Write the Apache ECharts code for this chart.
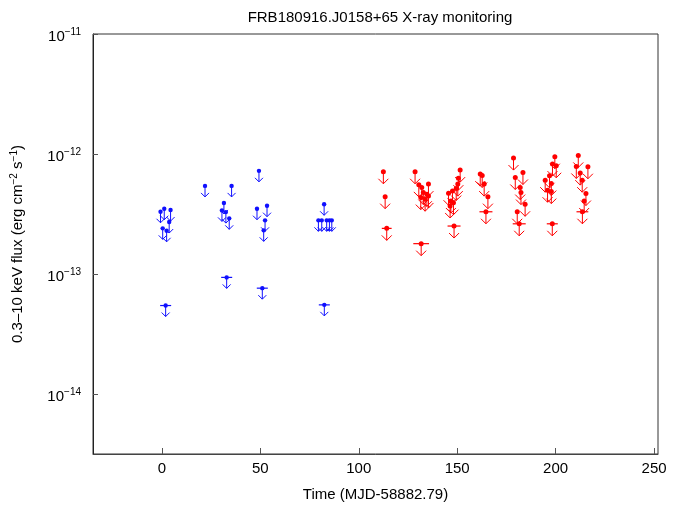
<!DOCTYPE html>
<html>
<head>
<meta charset="utf-8">
<script src="https://cdn.jsdelivr.net/npm/echarts@6/dist/echarts.min.js"></script>
<style>
  html, body { margin: 0; padding: 0; background: #fff; }
  #chart { width: 683px; height: 509px; }
</style>
</head>
<body>
<div id="chart"></div>
<script>
// time in days since MJD 58882.79, flux upper limits in erg cm^-2 s^-1,
// xerr = half width of the horizontal bar in days (0 = none)
const blueX = [-0.7, 1.2, 4.4, 3.7, 0.4, 2.4, 1.9,
  21.9, 35.4, 31.5, 30.5, 32.5, 34.2, 32.9,
  49.3, 48.3, 53.4, 52.4, 51.7, 51.0,
  82.4, 79.5, 81.2, 83.7, 85.1, 86.3, 82.5];
const blueFlux = [3.30e-13, 3.50e-13, 3.41e-13, 2.71e-13, 2.40e-13, 2.29e-13, 5.46e-14,
  5.42e-13, 5.42e-13, 3.91e-13, 3.39e-13, 3.28e-13, 2.91e-13, 9.37e-14,
  7.24e-13, 3.50e-13, 3.71e-13, 2.80e-13, 2.31e-13, 7.62e-14,
  3.81e-13, 2.80e-13, 2.80e-13, 2.80e-13, 2.80e-13, 2.80e-13, 5.53e-14];
const blueXerr = [0, 0, 0, 0, 0, 0, 2.8,
  0, 0, 0, 0, 0, 0, 2.8,
  0, 0, 0, 0, 0, 2.8,
  0, 0, 0, 0, 0, 0, 2.8];

const redX = [112.5, 113.4, 114.2,
  128.6, 130.5, 132.0, 135.4, 132.8, 134.6, 131.5, 133.7, 135.4, 131.7,
  151.5, 150.6, 150.3, 147.6, 145.6, 149.5, 146.8, 148.1, 146.4, 148.4,
  161.7, 162.7, 163.7, 165.6, 164.6,
  178.6, 179.5, 183.4, 182.0, 182.4, 184.5, 180.5, 181.5,
  199.6, 198.4, 200.3, 196.9, 194.7, 197.8, 195.9, 197.8, 198.3,
  211.5, 210.5, 212.5, 216.4, 213.5, 215.4, 214.5, 213.6];
const redFlux = [7.11e-13, 4.41e-13, 2.40e-13,
  7.11e-13, 5.53e-13, 5.25e-13, 5.61e-13, 4.77e-13, 4.62e-13, 4.33e-13, 4.20e-13, 4.47e-13, 1.79e-13,
  7.34e-13, 6.29e-13, 5.61e-13, 4.92e-13, 4.71e-13, 5.15e-13, 4.06e-13, 3.93e-13, 3.69e-13, 2.51e-13,
  6.80e-13, 6.62e-13, 5.61e-13, 4.41e-13, 3.30e-13,
  9.25e-13, 6.37e-13, 7.01e-13, 5.25e-13, 4.77e-13, 3.81e-13, 3.30e-13, 2.62e-13,
  9.49e-13, 8.24e-13, 7.98e-13, 6.58e-13, 6.05e-13, 5.67e-13, 4.99e-13, 4.86e-13, 2.62e-13,
  9.73e-13, 7.87e-13, 6.93e-13, 7.83e-13, 6.05e-13, 4.68e-13, 4.06e-13, 3.30e-13];
const redXerr = [0, 0, 2.5,
  0, 0, 0, 0, 0, 0, 0, 0, 0, 4.0,
  0, 0, 0, 0, 0, 0, 0, 0, 0, 3.3,
  0, 0, 0, 0, 3.3,
  0, 0, 0, 0, 0, 0, 0, 3.3,
  0, 0, 0, 0, 0, 0, 0, 0, 2.8,
  0, 0, 0, 0, 0, 0, 0, 3.0];

const xTickStep = 50;
const yTickExps = [-14, -13, -12, -11];

const font = 'Liberation Sans, Arial, Helvetica, sans-serif';

function zip(xs, fs, es) {
  return xs.map((x, i) => [x, fs[i], es[i]]);
}

// upper-limit marker: dot, stem and arrow head pointing down, optional x bar
function limitMarker(color, len, head, r) {
  return function (params, api) {
    const x = api.value(0);
    const f = api.value(1);
    const xe = api.value(2);
    const p = api.coord([x, f]);
    const tip = p[1] + len;
    const kids = [
      { type: 'line', shape: { x1: p[0], y1: p[1], x2: p[0], y2: tip },
        style: { stroke: color, lineWidth: 1 } },
      { type: 'polyline',
        shape: { points: [[p[0] - head, tip - head], [p[0], tip], [p[0] + head, tip - head]] },
        style: { stroke: color, fill: null, lineWidth: 1 } },
      { type: 'circle', shape: { cx: p[0], cy: p[1], r: r },
        style: { fill: color } }
    ];
    if (xe > 0) {
      const a = api.coord([x - xe, f]);
      const b = api.coord([x + xe, f]);
      kids.push({ type: 'line', shape: { x1: a[0], y1: a[1], x2: b[0], y2: b[1] },
        style: { stroke: color, lineWidth: 1.2 } });
    }
    return { type: 'group', children: kids };
  };
}

const chart = echarts.init(document.getElementById('chart'), null, { renderer: 'canvas' });

const option = {
  animation: false,
  backgroundColor: '#fff',
  textStyle: { fontFamily: font },
  title: {
    text: 'FRB180916.J0158+65 X-ray monitoring',
    left: 375,
    top: 5,
    textAlign: 'center',
    textStyle: { fontFamily: font, fontSize: 15, fontWeight: 'normal', color: '#000' }
  },
  grid: {
    left: 93, right: 25, top: 34, bottom: 55,
    show: true, borderColor: '#333', borderWidth: 1,
    containLabel: false
  },
  xAxis: {
    type: 'value',
    min: -35,
    max: 252,
    splitNumber: 5,
    name: 'Time (MJD-58882.79)',
    nameLocation: 'middle',
    nameGap: 33,
    nameTextStyle: { fontFamily: font, fontSize: 15, color: '#000' },
    axisLine: { show: true, onZero: false, lineStyle: { color: '#444', width: 1 } },
    axisTick: { show: true, inside: true, length: 6, lineStyle: { color: '#555' } },
    axisLabel: {
      margin: 7, fontFamily: font, fontSize: 15, color: '#000',
      showMinLabel: false, showMaxLabel: false,
      formatter: v => (Math.abs(v % xTickStep) < 1e-9 ? String(v) : '')
    },
    splitLine: { show: false }
  },
  yAxis: {
    type: 'log',
    logBase: 10,
    min: Math.pow(10, -14.5),
    max: 1e-11,
    name: '0.3–10 keV flux (erg cm{sup|−2} s{sup|−1})',
    nameLocation: 'middle',
    nameRotate: 90,
    nameGap: 66,
    nameTextStyle: {
      fontFamily: font, fontSize: 15, color: '#000',
      rich: { sup: { fontFamily: font, fontSize: 10, color: '#000', verticalAlign: 'top', padding: [0, 0, 8, 0] } }
    },
    axisLine: { show: true, onZero: false, lineStyle: { color: '#222', width: 1 } },
    axisTick: { show: true, inside: true, length: 5, lineStyle: { color: '#555' } },
    axisLabel: {
      margin: 12, fontFamily: font, fontSize: 15, color: '#000',
      showMinLabel: false,
      formatter: function (v) {
        const e = Math.log10(v);
        const k = Math.round(e);
        if (Math.abs(e - k) > 1e-6 || yTickExps.indexOf(k) < 0) return '';
        return '{base|10}{sup|−' + Math.abs(k) + '}';
      },
      rich: {
        base: { fontFamily: font, fontSize: 15, color: '#000', padding: [6, 0, 0, 0] },
        sup: { fontFamily: font, fontSize: 10, color: '#000', padding: [0, 0, 4, 0] }
      }
    },
    splitLine: { show: false }
  },
  series: [
    {
      type: 'custom',
      name: 'blue',
      renderItem: limitMarker('#1010ff', 11, 4, 2.2),
      encode: { x: 0, y: 1 },
      data: zip(blueX, blueFlux, blueXerr),
      clip: true
    },
    {
      type: 'custom',
      name: 'red',
      renderItem: limitMarker('#ff0000', 12, 5, 2.5),
      encode: { x: 0, y: 1 },
      data: zip(redX, redFlux, redXerr),
      clip: true
    }
  ]
};

chart.setOption(option);
</script>
</body>
</html>
